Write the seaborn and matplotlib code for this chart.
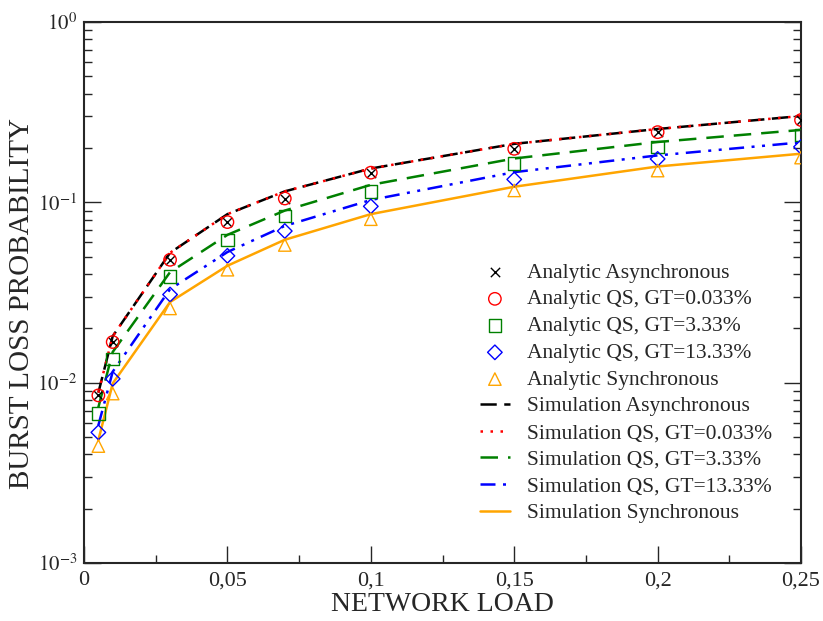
import numpy as np
import pandas as pd
import matplotlib
matplotlib.use("Agg")
import matplotlib.pyplot as plt
from matplotlib.ticker import FixedLocator, LogLocator, NullFormatter, FuncFormatter
import seaborn as sns

load = [0.005, 0.01, 0.03, 0.05, 0.07, 0.1, 0.15, 0.2, 0.25]

ana_async = [0.0085, 0.0168, 0.048, 0.0777, 0.105, 0.146, 0.198, 0.245, 0.286]
ana_qs0033 = [0.0085, 0.0168, 0.048, 0.0777, 0.105, 0.146, 0.198, 0.245, 0.286]
ana_qs333 = [0.00676, 0.01355, 0.0387, 0.0618, 0.0838, 0.115, 0.164, 0.203, 0.236]
ana_qs1333 = [0.0053, 0.0105, 0.0308, 0.0505, 0.0693, 0.095, 0.134, 0.174, 0.203]
ana_sync = [0.00445, 0.0087, 0.0258, 0.0423, 0.058, 0.0806, 0.1164, 0.150, 0.177]

sim_async = [0.0088, 0.0181, 0.0525, 0.086, 0.115, 0.154, 0.211, 0.255, 0.301]
sim_qs0033 = [0.0088, 0.0181, 0.0525, 0.086, 0.115, 0.154, 0.211, 0.255, 0.301]
sim_qs333 = [0.0073, 0.0148, 0.041, 0.066, 0.090, 0.125, 0.175, 0.216, 0.252]
sim_qs1333 = [0.0058, 0.0115, 0.033, 0.053, 0.074, 0.103, 0.147, 0.182, 0.215]
sim_sync = [0.0048, 0.0099, 0.028, 0.0445, 0.062, 0.086, 0.122, 0.158, 0.186]

x_ticks = [0, 0.05, 0.1, 0.15, 0.2, 0.25]
x_tick_labels = ["0", "0,05", "0,1", "0,15", "0,2", "0,25"]

sns.set_style("ticks")
plt.rcParams['font.family'] = ['Liberation Serif', 'DejaVu Serif']
plt.rcParams['mathtext.fontset'] = 'stix'

fig = plt.figure(figsize=(8.23, 6.21), dpi=100)
ax = fig.add_axes([0.1021, 0.0934, 0.8712, 0.8712])

analytic = [
    ("Analytic Asynchronous", ana_async, "x", "black"),
    ("Analytic QS, GT=0.033%", ana_qs0033, "o", "red"),
    ("Analytic QS, GT=3.33%", ana_qs333, "s", "green"),
    ("Analytic QS, GT=13.33%", ana_qs1333, "D", "blue"),
    ("Analytic Synchronous", ana_sync, "^", "orange"),
]
sims = [
    ("Simulation Asynchronous", sim_async, (0, (6.5, 3)), "black"),
    ("Simulation QS, GT=0.033%", sim_qs0033, (0, (1, 3)), "red"),
    ("Simulation QS, GT=3.33%", sim_qs333, (0, (7, 4)), "green"),
    ("Simulation QS, GT=13.33%", sim_qs1333, (0, (6, 3, 1.2, 3, 1.2, 3)), "blue"),
    ("Simulation Synchronous", sim_sync, "-", "orange"),
]

for name, vals, ls, col in sims:
    df = pd.DataFrame({"x": load, "y": vals})
    sns.lineplot(data=df, x="x", y="y", ax=ax, color=col, lw=1.8,
                 linestyle=ls, label=name, zorder=2)

for name, vals, mk, col in analytic:
    df = pd.DataFrame({"x": load, "y": vals})
    if mk == "x":
        sns.scatterplot(data=df, x="x", y="y", ax=ax, marker="x", color=col,
                        s=45, linewidth=1.0, label=name, zorder=3)
    else:
        sz = 80 if mk != "D" else 55
        sns.scatterplot(data=df, x="x", y="y", ax=ax, marker=mk, facecolors="none",
                        edgecolor=col, s=sz, linewidth=1.0, label=name, zorder=3)

ax.set_yscale("log")
ax.set_xlim(0, 0.25)
ax.set_ylim(1e-3, 1)

ax.xaxis.set_major_locator(FixedLocator(x_ticks))
ax.set_xticklabels(x_tick_labels)
ax.xaxis.set_minor_locator(FixedLocator([0.025, 0.075, 0.125, 0.175, 0.225]))
ax.yaxis.set_major_locator(LogLocator(base=10, numticks=10))
ax.yaxis.set_minor_locator(LogLocator(base=10, subs=np.arange(2, 10), numticks=20))
ax.yaxis.set_minor_formatter(NullFormatter())
ax.yaxis.set_major_formatter(FuncFormatter(lambda v, p: r"$10^{%d}$" % int(round(np.log10(v)))))

ax.tick_params(which="both", direction="in", top=False, right=True, labelsize=16, pad=6)
ax.tick_params(axis="y", labelsize=15, pad=5)
ax.tick_params(which="major", length=12, width=1.0)
ax.tick_params(which="minor", length=6, width=1.0)
for sp in ax.spines.values():
    sp.set_linewidth(1.5)

ax.set_xlabel("NETWORK LOAD", fontsize=20, labelpad=1)
ax.set_ylabel("BURST LOSS PROBABILITY", fontsize=21)
ax.yaxis.set_label_coords(-0.068, 0.48)

h, l = ax.get_legend_handles_labels()
order = [l.index(n) for n, *_ in analytic] + [l.index(n) for n, *_ in sims]
leg = ax.legend([h[i] for i in order], [l[i] for i in order], frameon=False,
                fontsize=15.5, loc="upper left", bbox_to_anchor=(0.583, 0.577),
                bbox_transform=fig.transFigure, borderpad=0, borderaxespad=0,
                handlelength=1.4, labelspacing=0.31, handletextpad=0.8)

fig.savefig("out.png", dpi=100)
